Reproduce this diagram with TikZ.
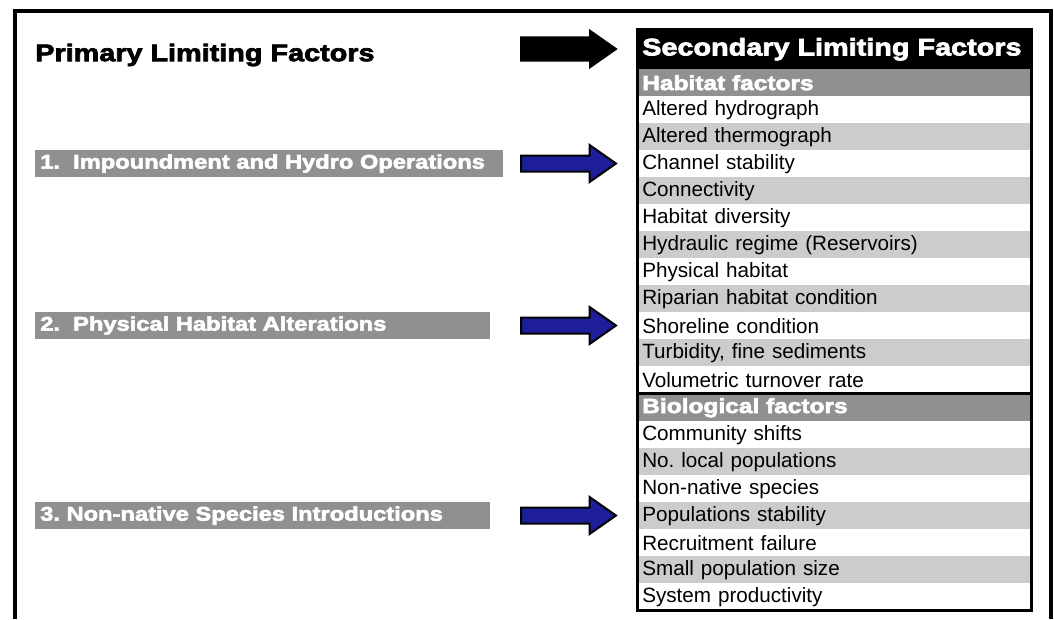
\documentclass[tikz,border=0pt]{standalone}
\usepackage{fontspec}
\setmainfont{Liberation Sans}
\newfontfamily\heavy{Liberation Sans}[BoldFeatures={FakeBold=3}, FakeStretch=1.2]
\usetikzlibrary{shapes.arrows}
\definecolor{barGray}{RGB}{144,144,144}
\definecolor{rowGray}{RGB}{204,204,204}
\definecolor{arrowBlue}{RGB}{30,30,155}
\frenchspacing
\begin{document}
\begin{tikzpicture}[x=0.75pt, y=-0.75pt,
    hv/.style={font=\heavy\bfseries\fontsize{18}{20}\selectfont},
    rowbox/.style={anchor=north west, minimum height=20.25pt, text width=288pt,
        inner xsep=3.75pt, inner ysep=0pt, align=left, font=\fontsize{15.5}{18}\selectfont},
    secbox/.style={rowbox, fill=barGray, text=white, font=\heavy\bfseries\fontsize{15.3}{18}\selectfont},
    barbox/.style={anchor=west, fill=barGray, text=white, minimum height=20.25pt,
        inner xsep=3.75pt, inner ysep=0pt, align=left, font=\heavy\bfseries\fontsize{14.8}{18}\selectfont},
    bluearrow/.style={single arrow, draw=black, line width=1.5pt, fill=arrowBlue, anchor=tail,
        minimum height=71.25pt, inner xsep=0pt, inner ysep=5.25pt,
        single arrow head extend=7.9pt, single arrow tip angle=70},
    blackarrow/.style={bluearrow, fill=black, inner ysep=7.9pt, single arrow head extend=4.9pt}]
    \useasboundingbox (0,0) rectangle (1054,619);
    \draw[line width=2.6pt] (15,619) |- (1051,11) -- (1051,619);
    % left side
    \node[hv, anchor=west, inner sep=0pt] (prim) at (35,55) {Primary Limiting Factors};
    \node[barbox, text width=343.5pt] (lim1) at (35,163.5) {\mbox{1.\ \ Impoundment and Hydro Operations}};
    \node[barbox, text width=333.75pt] (lim2) at (35,325.5) {\mbox{2.\ \ Physical Habitat Alterations}};
    \node[barbox, text width=333.75pt] (lim3) at (35,515.5) {\mbox{3. Non-native Species Introductions}};
    % arrows
    \node[blackarrow] (arr0) at (520,49) {};
    \node[bluearrow] (arr1) at (520,163.5) {};
    \node[bluearrow] (arr2) at (520,325.5) {};
    \node[bluearrow] (arr3) at (520,515.5) {};
    % table
    \node[anchor=north west, fill=black, text=white, hv, minimum height=30pt, text width=288pt,
        inner xsep=3.75pt, inner ysep=0pt, align=left] (head) at (637,29) {Secondary Limiting Factors};
    \node[secbox] (habhead) at (637,69) {Habitat factors};
    \foreach \t [count=\i from 0] in {Altered hydrograph, Altered thermograph, Channel stability,
        Connectivity, Habitat diversity, Hydraulic regime (Reservoirs), Physical habitat,
        Riparian habitat condition, Shoreline condition, {Turbidity, fine sediments},
        Volumetric turnover rate} {
        \ifodd\i\relax \def\fc{rowGray}\else \def\fc{white}\fi
        \node[rowbox, fill=\fc] (hab\i) at (637,{96+27*\i}) {\t};
    }
    \node[secbox] (biohead) at (637,394) {Biological factors};
    \foreach \t [count=\i from 0] in {Community shifts, No. local populations, Non-native species,
        Populations stability, Recruitment failure, Small population size, System productivity} {
        \ifodd\i\relax \def\fc{rowGray}\else \def\fc{white}\fi
        \node[rowbox, fill=\fc] (bio\i) at (637,{421+27*\i}) {\t};
    }
    \draw[line width=2.25pt] (head.north west) rectangle (bio6.south east);
    \draw[line width=2.25pt] (hab10.south west) -- (hab10.south east);
\end{tikzpicture}
\end{document}
